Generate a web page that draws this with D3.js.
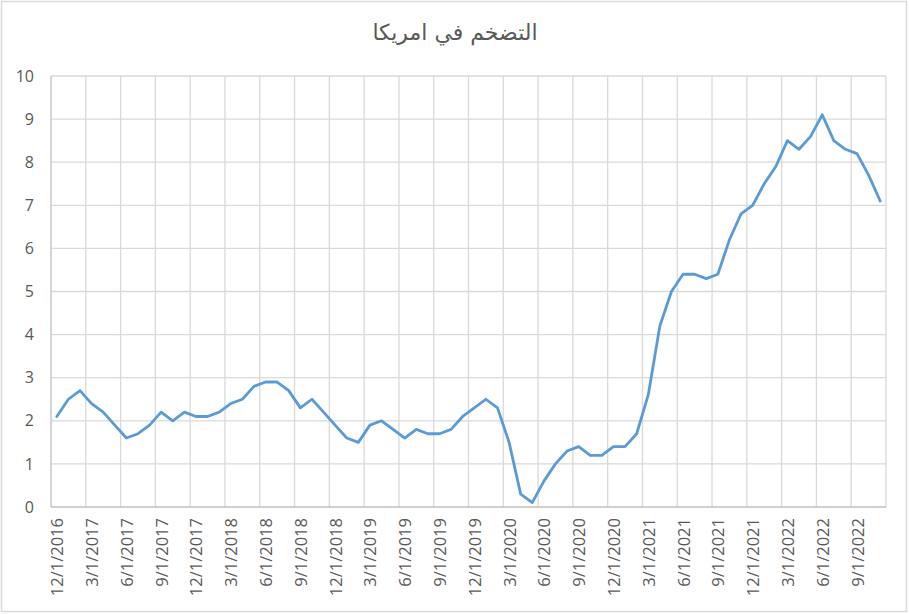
<!DOCTYPE html>
<html>
<head>
<meta charset="utf-8">
<script src="https://cdn.jsdelivr.net/npm/d3@7"></script>
<style>
  body { margin: 0; background: #fff; }
  svg { display: block; }
</style>
</head>
<body>
<script>
const title = "التضخم في امريكا";

const months = [
  "12/1/2016",
  "1/1/2017", "2/1/2017", "3/1/2017", "4/1/2017", "5/1/2017", "6/1/2017",
  "7/1/2017", "8/1/2017", "9/1/2017", "10/1/2017", "11/1/2017", "12/1/2017",
  "1/1/2018", "2/1/2018", "3/1/2018", "4/1/2018", "5/1/2018", "6/1/2018",
  "7/1/2018", "8/1/2018", "9/1/2018", "10/1/2018", "11/1/2018", "12/1/2018",
  "1/1/2019", "2/1/2019", "3/1/2019", "4/1/2019", "5/1/2019", "6/1/2019",
  "7/1/2019", "8/1/2019", "9/1/2019", "10/1/2019", "11/1/2019", "12/1/2019",
  "1/1/2020", "2/1/2020", "3/1/2020", "4/1/2020", "5/1/2020", "6/1/2020",
  "7/1/2020", "8/1/2020", "9/1/2020", "10/1/2020", "11/1/2020", "12/1/2020",
  "1/1/2021", "2/1/2021", "3/1/2021", "4/1/2021", "5/1/2021", "6/1/2021",
  "7/1/2021", "8/1/2021", "9/1/2021", "10/1/2021", "11/1/2021", "12/1/2021",
  "1/1/2022", "2/1/2022", "3/1/2022", "4/1/2022", "5/1/2022", "6/1/2022",
  "7/1/2022", "8/1/2022", "9/1/2022", "10/1/2022", "11/1/2022"
];

const inflation = [
  2.1,
  2.5, 2.7, 2.4, 2.2, 1.9, 1.6, 1.7, 1.9, 2.2, 2.0, 2.2, 2.1,
  2.1, 2.2, 2.4, 2.5, 2.8, 2.9, 2.9, 2.7, 2.3, 2.5, 2.2, 1.9,
  1.6, 1.5, 1.9, 2.0, 1.8, 1.6, 1.8, 1.7, 1.7, 1.8, 2.1, 2.3,
  2.5, 2.3, 1.5, 0.3, 0.1, 0.6, 1.0, 1.3, 1.4, 1.2, 1.2, 1.4,
  1.4, 1.7, 2.6, 4.2, 5.0, 5.4, 5.4, 5.3, 5.4, 6.2, 6.8, 7.0,
  7.5, 7.9, 8.5, 8.3, 8.6, 9.1, 8.5, 8.3, 8.2, 7.7, 7.1
];

const yTicks = [0, 1, 2, 3, 4, 5, 6, 7, 8, 9, 10];

const W = 910, H = 614;
const margin = { left: 51, right: 24, top: 76, bottom: 107 };
const txt = "#595959", grid = "#d9d9d9", axisCol = "#bfbfbf";
const labelFont = "'Open Sans', sans-serif";

const svg = d3.select("body").append("svg")
  .attr("width", W)
  .attr("height", H);

// chart border
svg.append("rect")
  .attr("x", 1.5).attr("y", 1.5)
  .attr("width", 905).attr("height", 610)
  .attr("fill", "#fff")
  .attr("stroke", grid)
  .attr("stroke-width", 1.5);

const x = d3.scaleBand()
  .domain(months)
  .range([margin.left, W - margin.right])
  .padding(0);

const y = d3.scaleLinear()
  .domain([0, 10])
  .range([H - margin.bottom, margin.top]);

// horizontal gridlines
svg.append("g")
  .selectAll("line")
  .data(yTicks.filter(d => d > 0))
  .enter().append("line")
    .attr("x1", margin.left).attr("x2", W - margin.right)
    .attr("y1", d => y(d)).attr("y2", d => y(d))
    .attr("stroke", grid).attr("stroke-width", 1.3);

// vertical gridlines every 3 months, on band boundaries
const labelled = months.filter((d, i) => i % 3 === 0);
svg.append("g")
  .selectAll("line")
  .data(labelled.slice(1).concat(["__end"]))
  .enter().append("line")
    .attr("x1", d => d === "__end" ? x.range()[1] : x(d))
    .attr("x2", d => d === "__end" ? x.range()[1] : x(d))
    .attr("y1", y(0)).attr("y2", y(10))
    .attr("stroke", grid).attr("stroke-width", 1.3);

// axes lines
svg.append("line")
  .attr("x1", margin.left).attr("x2", margin.left)
  .attr("y1", y(0)).attr("y2", y(10))
  .attr("stroke", axisCol).attr("stroke-width", 1.3);
svg.append("line")
  .attr("x1", margin.left).attr("x2", W - margin.right)
  .attr("y1", y(0)).attr("y2", y(0))
  .attr("stroke", axisCol).attr("stroke-width", 1.3);

// y axis labels
const yAxis = svg.append("g")
  .attr("transform", `translate(${margin.left},0)`)
  .call(d3.axisLeft(y).tickValues(yTicks).tickSize(0).tickPadding(17));
yAxis.select(".domain").remove();
yAxis.selectAll("text")
  .attr("fill", txt)
  .style("font-family", labelFont)
  .style("font-size", "16px");

// x axis labels
const xAxis = svg.append("g")
  .attr("transform", `translate(0,${y(0)})`)
  .call(d3.axisBottom(x).tickValues(labelled).tickSize(0));
xAxis.select(".domain").remove();
xAxis.selectAll("text")
  .attr("fill", txt)
  .style("font-family", labelFont)
  .style("font-size", "16.5px")
  .attr("text-anchor", "end")
  .attr("dy", null)
  .attr("y", 0)
  .attr("transform", "translate(0,11) rotate(-90)")
  .attr("dominant-baseline", "central");

// the line
const line = d3.line()
  .x((d, i) => x(months[i]) + x.bandwidth() / 2)
  .y(d => y(d));

svg.append("path")
  .datum(inflation)
  .attr("fill", "none")
  .attr("stroke", "#5b9bd5")
  .attr("stroke-width", 2.8)
  .attr("stroke-linejoin", "round")
  .attr("stroke-linecap", "round")
  .attr("d", line);

// title
svg.append("text")
  .attr("x", 455).attr("y", 40)
  .attr("text-anchor", "middle")
  .attr("fill", txt)
  .style("font-family", "'DejaVu Sans', sans-serif")
  .style("font-size", "22px")
  .text(title);
</script>
</body>
</html>
